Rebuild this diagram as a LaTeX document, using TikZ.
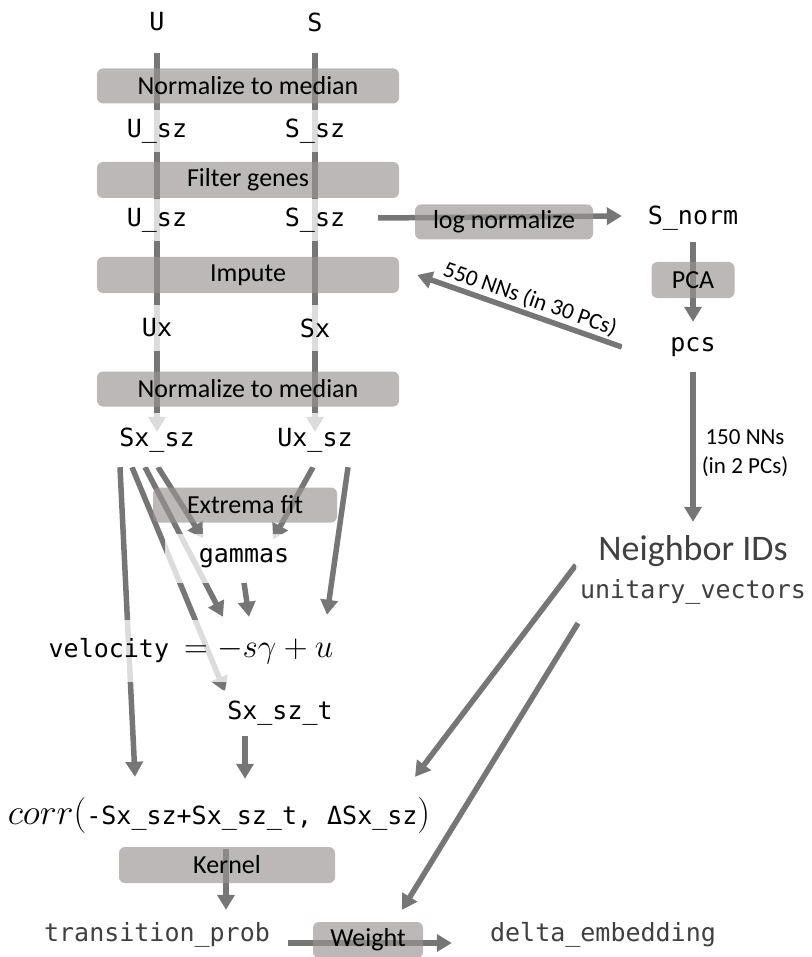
\RequirePackage{fix-cm}
\documentclass[tikz,border=0pt]{standalone}
\usepackage[no-math]{fontspec}
\setmainfont{Carlito}
\setmonofont{DejaVu Sans Mono}
\usepackage{xcolor}
\usetikzlibrary{arrows.meta}
\definecolor{flowgray}{RGB}{118,118,118}
\definecolor{boxgray}{RGB}{153,147,147}
\pgfdeclarelayer{background}
\pgfsetlayers{background,main}
\tikzset{
  basenode/.style = {align=center, inner sep=4pt, text centered},
  data_node/.style = {basenode, rectangle, fill=white, fill opacity=0.75, text opacity=1, font=\ttfamily\fontsize{25}{30}\selectfont, minimum height=42pt},
  step_node/.style = {basenode, rectangle, rounded corners=6pt, fill=boxgray, fill opacity=0.66, text opacity=1, font=\fontsize{26}{31}\selectfont, minimum height=36pt},
  note_node/.style = {basenode, inner sep=2pt, font=\fontsize{23}{29}\selectfont},
  flow/.style = {->, line width=5.5pt, draw=flowgray},
}

\begin{document}
\begin{tikzpicture}[x=1pt, y=-1pt, >={Triangle[length=15pt,width=17pt]}]
    \useasboundingbox (0,0) rectangle (811,957);
    \node [data_node, minimum width=100pt, minimum height=62pt] (U) at (157,22) {U};
    \node [data_node, minimum width=100pt, minimum height=62pt] (S) at (315,22) {S};
    \node [step_node, minimum width=302pt, minimum height=35pt] (norm_a) at (248,86) {Normalize to median};
    \node [data_node, minimum width=115pt] (Usz_a) at (157,131) {U\_sz};
    \node [data_node, minimum width=115pt] (Ssz_a) at (315,131) {S\_sz};
    \node [step_node, minimum width=302pt] (filter) at (248,180) {Filter genes};
    \node [data_node, minimum width=115pt] (Usz_b) at (157,220) {U\_sz};
    \node [data_node, minimum width=126pt] (Ssz_b) at (315,220) {S\_sz};
    \node [step_node, minimum width=302pt] (impute) at (248,275) {Impute};
    \node [data_node, minimum width=115pt, minimum height=46pt] (Ux) at (157,328) {Ux};
    \node [data_node, minimum width=115pt, minimum height=46pt] (Sx) at (315,328) {Sx};
    \node [step_node, minimum width=302pt, minimum height=35pt] (norm_b) at (248,389) {Normalize to median};
    \node [data_node, minimum width=110pt, minimum height=54pt] (Sxsz) at (157,440) {Sx\_sz};
    \node [data_node, minimum width=120pt, minimum height=54pt] (Uxsz) at (315,440) {Ux\_sz};
    \node [step_node, minimum width=178pt, minimum height=35pt] (lognorm) at (504,222) {log normalize};
    \node [data_node, minimum width=142pt, minimum height=48pt] (Snorm) at (693,218) {S\_norm};
    \node [step_node, minimum width=83pt] (pca) at (693,280) {PCA};
    \node [data_node, minimum width=142pt, minimum height=50pt] (pcs) at (693,347) {pcs};
    \node [data_node, minimum width=230pt, minimum height=96pt, text=black!75] (nbr) at (693,570)
        {{\rmfamily\fontsize{36}{40}\selectfont Neighbor IDs}\\[8pt]unitary\_vectors};
    \node [step_node, minimum width=184pt, minimum height=35pt] (extrema) at (245,505) {Extrema fit};
    \node [data_node, minimum width=158pt, minimum height=49pt] (gammas) at (244,558) {gammas};
    \node [data_node, minimum width=370pt, minimum height=62pt] (velo) at (191,651)
        {velocity\ {\fontsize{33}{40}\selectfont$=-s\gamma+u$}};
    \node [data_node, minimum width=155pt, minimum height=46pt] (Sxszt) at (280,713) {Sx\_sz\_t};
    \node [data_node, inner xsep=2pt, minimum height=68pt] (corr) at (219,815)
        {{\fontsize{36}{43}\selectfont$corr($}-Sx\_sz+Sx\_sz\_t, ΔSx\_sz{\fontsize{36}{43}\selectfont$)$}};
    \node [step_node, minimum width=216pt] (kernel) at (227,865) {Kernel};
    \node [data_node, minimum width=262pt, minimum height=50pt, text=black!75] (trans) at (157,935) {transition\_prob};
    \node [step_node, minimum width=110pt] (weight) at (368,940) {Weight};
    \node [data_node, minimum width=302pt, minimum height=50pt, text=black!75] (delta) at (603,935) {delta\_embedding};

    \begin{pgfonlayer}{background}
    \draw [flow] (U.south) -- ([yshift=-19pt]Sxsz.north);
    \draw [flow] (S.south) -- ([yshift=-19pt]Uxsz.north);
    \draw [flow] ([yshift=2pt]Ssz_b.east) -- ([yshift=2pt]Snorm.west);
    \draw [flow] (Snorm.south) -- (pcs.north);
    \draw [flow] (pcs.south) -- node [note_node, midway, right, xshift=4pt, yshift=-6pt] {150 NNs\\(in 2 PCs)} (nbr.north);
    \draw [flow] (pcs.west) -- node [note_node, midway, above, sloped, xshift=6pt] {550 NNs (in 30 PCs)} ([xshift=18pt]impute.east);
    \draw [flow] ([xshift=-37pt]Sxsz.south) -- ([xshift=-84pt,yshift=4pt]corr.north);
    \draw [flow] ([xshift=-25pt]Sxsz.south) -- ([xshift=-55pt,yshift=-2pt]Sxszt.north);
    \draw [flow] ([xshift=-12pt]Sxsz.south) -- ([xshift=32pt,yshift=3pt]velo.north);
    \draw [flow] ([xshift=1pt]Sxsz.south) -- ([xshift=-41pt,yshift=-5pt]gammas.north);
    \draw [flow] ([xshift=-2pt]Uxsz.south) -- ([xshift=29pt,yshift=-6pt]gammas.north);
    \draw [flow] ([xshift=33pt]Uxsz.south) -- ([xshift=136pt,yshift=5pt]velo.north);
    \draw [flow] (gammas.south) -- ([xshift=58pt,yshift=3pt]velo.north);
    \draw [flow] ([xshift=-35pt]Sxszt.south) -- ([xshift=26pt,yshift=2pt]corr.north);
    \draw [flow] ([yshift=5pt]nbr.west) -- ([xshift=196pt,yshift=4pt]corr.north);
    \draw [flow] ([xshift=-115pt,yshift=-5pt]nbr.south) -- ([xshift=34pt,yshift=12pt]weight.north);
    \draw [flow] ([xshift=7pt]corr.south) -- ([xshift=69pt]trans.north);
    \draw [flow] ([yshift=-8pt]trans.east) -- ([yshift=-8pt]delta.west);
    \end{pgfonlayer}
\end{tikzpicture}
\end{document}
